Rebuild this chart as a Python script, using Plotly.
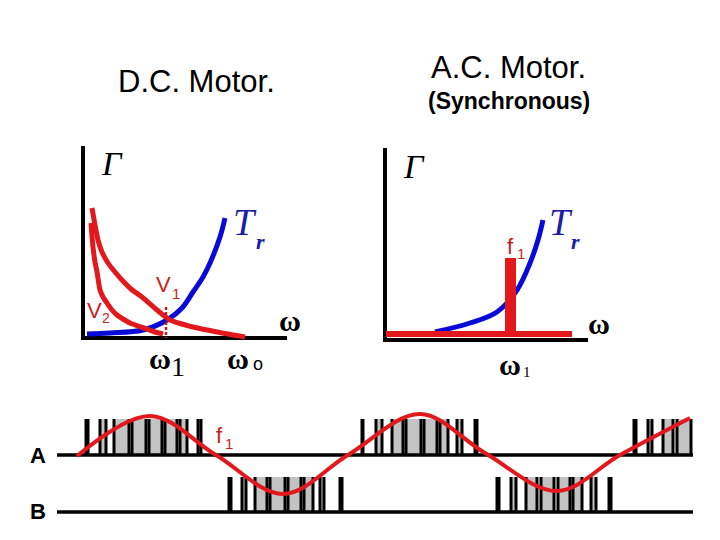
import plotly.graph_objects as go

# ---------------- data (pixel space 720x540) ----------------
# D.C. motor panel
dc_axis_x = [83, 83, 287]
dc_axis_y = [146, 338, 338]
dc_tr_x = [87, 110, 143, 167, 182, 193, 203, 210, 220, 225]
dc_tr_y = [334, 333, 330, 320, 308, 292, 277, 263, 237, 218]
dc_v1_x = [92, 95, 98, 102, 108, 115, 122, 131, 142, 157, 170, 193, 217, 245]
dc_v1_y = [208, 225, 240, 252, 263, 272, 280, 289, 297, 310, 320, 327, 332, 337]
dc_v2_x = [91, 92, 93, 95, 97, 100, 103, 107, 112, 117, 123, 130, 138, 147, 155, 163]
dc_v2_y = [223, 236, 247, 262, 272, 290, 297, 303, 310, 315, 319, 323, 326, 329, 332, 334]
dc_w1_x = [166, 166]
dc_w1_y = [307, 338]

# A.C. synchronous motor panel
ac_axis_x = [385, 385, 588]
ac_axis_y = [148, 340, 340]
ac_tr_x = [435, 470, 497, 517, 530, 538, 543]
ac_tr_y = [332, 323, 312, 290, 263, 240, 220]
ac_base_x = [386, 572]
ac_base_y = [334, 334]
ac_f1_x = [510.5, 510.5]
ac_f1_y = [258, 334]

# PWM rows
row_a_y = 455
row_a_top = 419
row_b_y = 512
row_b_top = 477
row_x = [57, 693]
pulses_a = [(85, 89), (99, 107), (113, 130), (131, 147), (148, 163), (164, 178), (179, 188), (197, 202),
            (361, 364), (375, 383), (391, 404), (405, 422), (423, 438), (439, 449), (456, 463), (474, 478),
            (633, 637), (647, 653), (662, 674), (676, 692)]
pulses_b = [(228, 232), (241, 247), (254, 268), (269, 286), (287, 302), (303, 314), (319, 325), (339, 343),
            (496, 500), (510, 517), (525, 538), (540, 555), (557, 571), (572, 583), (590, 597), (608, 612)]
wave_x = [77, 150, 216, 283, 348, 420, 485, 557, 620, 690]
wave_y = [456, 416, 455, 494, 455, 414, 453, 491, 455, 418]

RED = "#e3181c"
BLUE = "#0a0ad8"
TXT_BLUE = "#1c1ca6"
TXT_RED = "#c81e1e"
GRAY = "#c3c3c3"

fig = go.Figure()

def line(x, y, color, width, dash=None, shape="linear", smoothing=1.0):
    fig.add_trace(go.Scatter(x=x, y=y, mode="lines", hoverinfo="skip",
                             line=dict(color=color, width=width, dash=dash, shape=shape,
                                       smoothing=smoothing)))

# axes of the two panels
line(dc_axis_x, dc_axis_y, "black", 4)
line(ac_axis_x, ac_axis_y, "black", 4)

# DC curves
line(dc_tr_x, dc_tr_y, BLUE, 5, shape="spline")
line(dc_v2_x, dc_v2_y, RED, 5, shape="spline", smoothing=0.6)
line(dc_v1_x, dc_v1_y, RED, 5, shape="spline", smoothing=0.6)
line(dc_w1_x, dc_w1_y, "#b02020", 2.5, dash="3px,2px")

# AC curves
line(ac_tr_x, ac_tr_y, BLUE, 5, shape="spline")
line(ac_base_x, ac_base_y, RED, 6)
line(ac_f1_x, ac_f1_y, RED, 11)

# PWM rows: gray fills then black edges
def pulses(plist, base, top):
    fx, fy, ex, ey = [], [], [], []
    for l, r in plist:
        fx += [l, r, r, l, l, None]
        fy += [base, base, top, top, base, None]
        ex += [l + 1, l + 1, None, r - 1, r - 1, None]
        ey += [base, top, None, base, top, None]
    fig.add_trace(go.Scatter(x=fx, y=fy, mode="lines", fill="toself", fillcolor=GRAY,
                             line=dict(width=0, color=GRAY), hoverinfo="skip"))
    fig.add_trace(go.Scatter(x=ex, y=ey, mode="lines", line=dict(color="black", width=3),
                             hoverinfo="skip"))

pulses(pulses_a, row_a_y, row_a_top)
pulses(pulses_b, row_b_y, row_b_top)
line(row_x, [row_a_y, row_a_y], "black", 3.5)
line(row_x, [row_b_y, row_b_y], "black", 3.5)
line(wave_x, wave_y, RED, 4, shape="spline")

# ---------------- text ----------------
SANS = "Liberation Sans, Arial, sans-serif"
SERIF = "Liberation Serif, Times New Roman, serif"

def txt(x, y, s, size, color="black", family=SANS):
    fig.add_annotation(x=x, y=y, text=s, showarrow=False, xref="x", yref="y",
                       xanchor="center", yanchor="middle",
                       font=dict(size=size, color=color, family=family))

txt(196, 81, "D.C. Motor.", 31)
txt(508, 67, "A.C. Motor.", 31)
txt(509, 101, "<b>(Synchronous)</b>", 23)

# DC labels
txt(112, 163, "<i>Γ</i>", 34, family=SERIF)
txt(245, 222, "<i>T</i>", 38, TXT_BLUE, SERIF)
txt(260, 241, "<i><b>r</b></i>", 22, TXT_BLUE, SERIF)
txt(163, 284, "V", 22, TXT_RED)
txt(176, 293, "1", 15, TXT_RED)
txt(94, 310, "V", 22, TXT_RED)
txt(106, 318, "2", 14, TXT_RED)
txt(290, 320, "<b>ω</b>", 30, family=SERIF)
txt(160, 358, "<b>ω</b>", 30, family=SERIF)
txt(178, 366, "1", 28, family=SERIF)
txt(238, 358, "<b>ω</b>", 30, family=SERIF)
txt(258, 364, "o", 18)

# AC labels
txt(414, 166, "<i>Γ</i>", 34, family=SERIF)
txt(561, 222, "<i>T</i>", 38, TXT_BLUE, SERIF)
txt(575, 241, "<i><b>r</b></i>", 22, TXT_BLUE, SERIF)
txt(510, 246, "f", 22, TXT_RED)
txt(521, 253, "1", 15, TXT_RED)
txt(599, 323, "<b>ω</b>", 30, family=SERIF)
txt(510, 364, "<b>ω</b>", 30, family=SERIF)
txt(527, 372, "1", 15, family=SERIF)

# PWM labels
txt(38, 455, "<b>A</b>", 22)
txt(38, 511, "<b>B</b>", 22)
txt(219, 435, "f", 22, TXT_RED)
txt(229, 443, "1", 15, TXT_RED)

# the page body adds an 8px margin, so the figure is 704x524 and the ranges start at 8
fig.update_layout(width=704, height=524, margin=dict(l=0, r=0, t=0, b=0),
                  paper_bgcolor="white", plot_bgcolor="white", showlegend=False,
                  xaxis=dict(range=[8, 712], visible=False, fixedrange=True),
                  yaxis=dict(range=[532, 8], visible=False, fixedrange=True))

fig.write_html("out.html")
